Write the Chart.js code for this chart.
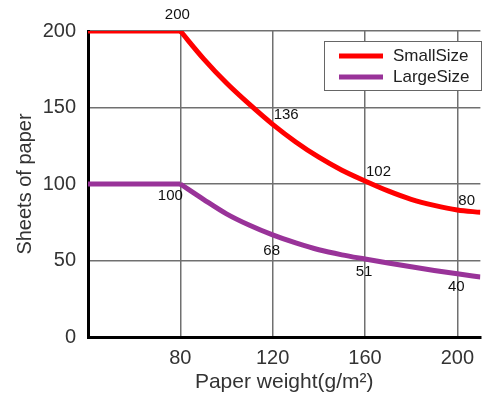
<!DOCTYPE html>
<html>
<head>
<meta charset="utf-8">
<style>
  html, body { margin: 0; padding: 0; background: #fff; }
  #wrap { width: 483px; height: 399px; }
</style>
<script src="https://cdn.jsdelivr.net/npm/chart.js@4.4.1/dist/chart.umd.min.js"></script>
</head>
<body>
<div id="wrap"><canvas id="myChart" width="483" height="399"></canvas></div>
<script>
'use strict';

// paper weight (g/m2) and sheets
const weights = [40, 80, 90, 100, 110, 120, 130, 140, 150, 160, 170, 180, 190, 200, 210];
const smallSize = [200, 200, 182, 166, 152, 139, 127.5, 117.5, 109, 102, 95.5, 90, 86, 83, 81.5];
const largeSize = [100, 100, 90, 80.5, 73, 66.7, 61.5, 57, 53.7, 51, 48.4, 45.9, 43.5, 41.3, 39.2];

// curves bend at this weight, flat before it
const kneeWeight = 80;

// the numbers printed next to the curves
const labelWeights = [80, 120, 160, 200];
const smallLabels = ['200', '136', '102', '80'];
const largeLabels = ['100', '68', '51', '40'];

const xTicks = [80, 120, 160, 200];
const yTicks = [0, 50, 100, 150, 200];

const seriesNames = ['SmallSize', 'LargeSize'];
const seriesColors = ['rgb(255,0,0)', 'rgb(153,51,153)'];

const fontName = '"Liberation Sans", Arial, sans-serif';

function toPoints(values, flat) {
  let pts = [];
  for (let i = 0; i < weights.length; i++) {
    if (flat ? weights[i] <= kneeWeight : weights[i] >= kneeWeight) {
      pts.push({ x: weights[i], y: values[i] });
    }
  }
  return pts;
}

function makeSet(values, color, flat) {
  return {
    data: toPoints(values, flat),
    borderColor: color,
    borderWidth: 5,
    pointRadius: 0,
    cubicInterpolationMode: 'monotone',
    tension: 0.4
  };
}

// little labels beside the curves
const valueLabels = {
  id: 'valueLabels',
  afterDatasetsDraw(chart) {
    const ctx = chart.ctx;
    const xs = chart.scales.x;
    const ys = chart.scales.y;
    ctx.save();
    ctx.font = '15px ' + fontName;
    ctx.fillStyle = '#111';
    ctx.textBaseline = 'middle';
    for (let i = 0; i < labelWeights.length; i++) {
      let k = weights.indexOf(labelWeights[i]);
      let px = xs.getPixelForValue(labelWeights[i]);
      let y0 = ys.getPixelForValue(smallSize[k]);
      let y1 = ys.getPixelForValue(largeSize[k]);
      if (i === 0) {
        ctx.textAlign = 'center';
        ctx.fillText(smallLabels[i], px - 3, y0 - 16);
        ctx.fillText(largeLabels[i], px - 10, y1 + 12);
      } else {
        ctx.textAlign = 'left';
        ctx.fillText(smallLabels[i], px + 1, y0 - 9);
        ctx.textAlign = 'center';
        ctx.fillText(largeLabels[i], px - 1, y1 + (i === 1 ? 16 : 13));
      }
    }
    ctx.restore();
  }
};

// boxed legend inside the plot
const boxLegend = {
  id: 'boxLegend',
  afterDraw(chart) {
    const ctx = chart.ctx;
    ctx.save();
    ctx.fillStyle = '#fff';
    ctx.fillRect(324.5, 41.5, 157, 49);
    ctx.strokeStyle = '#666';
    ctx.lineWidth = 1;
    ctx.strokeRect(324.5, 41.5, 157, 49);
    ctx.font = '17px ' + fontName;
    ctx.textBaseline = 'middle';
    ctx.textAlign = 'left';
    for (let i = 0; i < seriesNames.length; i++) {
      let y = 56 + i * 21;
      ctx.strokeStyle = seriesColors[i];
      ctx.lineWidth = 5;
      ctx.beginPath();
      ctx.moveTo(339, y);
      ctx.lineTo(383, y);
      ctx.stroke();
      ctx.fillStyle = '#222';
      ctx.fillText(seriesNames[i], 393, y);
    }
    ctx.restore();
  }
};

let ctx = document.getElementById('myChart').getContext('2d');
let chart = new Chart(ctx, {
  type: 'line',
  data: {
    datasets: [
      makeSet(smallSize, seriesColors[0], true),
      makeSet(smallSize, seriesColors[0], false),
      makeSet(largeSize, seriesColors[1], true),
      makeSet(largeSize, seriesColors[1], false)
    ]
  },
  options: {
    responsive: false,
    animation: false,
    layout: { padding: { top: 31, right: 0, left: 0, bottom: 0 } },
    plugins: {
      legend: { display: false },
      tooltip: { enabled: false }
    },
    scales: {
      x: {
        type: 'linear',
        min: 40,
        max: 210,
        afterBuildTicks: function(scale) {
          scale.ticks = xTicks.map(v => ({ value: v }));
        },
        afterFit: function(scale) { scale.height = 62; },
        grid: { color: '#707070', lineWidth: 1.5, drawTicks: false },
        border: { color: '#000', width: 3 },
        ticks: { color: '#333', font: { family: fontName, size: 20 }, padding: 9, maxRotation: 0 },
        title: {
          display: true,
          text: 'Paper weight(g/m\u00b2)',
          color: '#333',
          font: { family: fontName, size: 21 },
          padding: { top: 0, bottom: 4 }
        }
      },
      y: {
        min: 0,
        max: 200,
        afterBuildTicks: function(scale) {
          scale.ticks = yTicks.map(v => ({ value: v }));
        },
        afterFit: function(scale) { scale.width = 88; },
        grid: { color: '#707070', lineWidth: 1.5, drawTicks: false },
        border: { color: '#000', width: 3 },
        ticks: { color: '#333', font: { family: fontName, size: 20 }, padding: 12 },
        title: {
          display: true,
          text: 'Sheets of paper',
          color: '#333',
          font: { family: fontName, size: 20 },
          padding: { top: 13, bottom: 0 }
        }
      }
    }
  },
  plugins: [valueLabels, boxLegend]
});
</script>
</body>
</html>
